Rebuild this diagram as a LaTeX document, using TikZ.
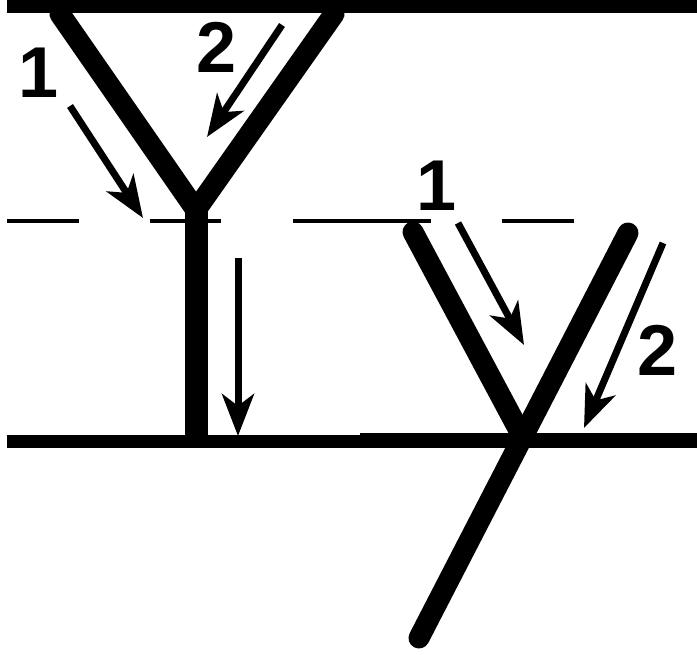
\documentclass[tikz,border=0pt]{standalone}
\usepackage{fontspec}
\setmainfont{Liberation Sans}
\usetikzlibrary{arrows.meta}
\begin{document}
\begin{tikzpicture}[x=1pt,y=-1pt,
  ground/.style={line width=13pt},
  limb/.style={line width=21pt,line cap=round},
  level/.style={line width=4pt},
  flow/.style={line width=7pt,-{Stealth[length=42pt,width=32pt,inset=12pt]}},
  num/.style={font=\fontsize{72}{72}\bfseries\selectfont,inner sep=0pt}]
\useasboundingbox (0,0) rectangle (697,655);
% left Y
\coordinate (la) at (60,14);
\coordinate (ra) at (334,14);
\coordinate (j1) at (196,210);
\coordinate (s1) at (196,438);
\draw[limb] (la) -- (j1) -- (ra);
\draw[line width=23pt] (j1) -- (s1);
% right Y
\coordinate (lb) at (413,232);
\coordinate (j2) at (522,436);
\coordinate (rb) at (628,233);
\coordinate (tb) at (419,638);
\draw[limb] (lb) -- (j2);
\draw[limb] (rb) -- (tb);
% horizontal lines
\coordinate (t0) at (7,7); \coordinate (t1) at (697,7);
\draw[ground] (t0) -- (t1);
\coordinate (b0) at (7,441); \coordinate (b1) at (697,441);
\draw[ground] (b0) -- (b1);
\coordinate (b2) at (360,440); \coordinate (b3) at (697,440);
\draw[line width=15pt] (b2) -- (b3);
% dashed level
\foreach \a/\b in {7/79,150/221,293/431,502/574}
  \draw[level] (\a,221) -- (\b,221);
% arrows
\coordinate (a1s) at (70,106); \coordinate (a1e) at (143,218);
\draw[flow] (a1s) -- (a1e);
\coordinate (a2s) at (282,25); \coordinate (a2e) at (207,137);
\draw[flow] (a2s) -- (a2e);
\coordinate (a3s) at (238,258); \coordinate (a3e) at (238,436);
\draw[flow] (a3s) -- (a3e);
\coordinate (a4s) at (458,223); \coordinate (a4e) at (524,345);
\draw[flow] (a4s) -- (a4e);
\coordinate (a5s) at (663,243); \coordinate (a5e) at (584,428);
\draw[flow] (a5s) -- (a5e);
% labels
\node[num] (n1) at (39,73) {1};
\node[num] (n2) at (217,47) {2};
\node[num] (n3) at (437,186) {1};
\node[num] (n4) at (658,350) {2};
\end{tikzpicture}
\end{document}
